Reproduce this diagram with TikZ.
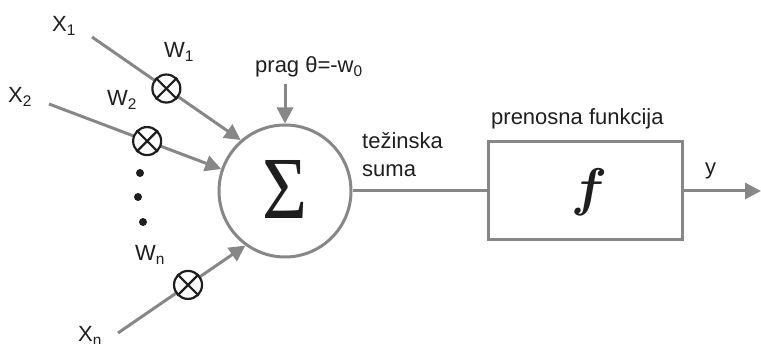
\documentclass[tikz,border=0pt]{standalone}
\usepackage{fontspec}
\usepackage{bm}
\setmainfont{Liberation Sans}
\newfontfamily\serifface{Liberation Serif}
\usetikzlibrary{arrows.meta,calc}
\definecolor{lgray}{RGB}{135,135,135}
\definecolor{ink}{RGB}{30,30,30}
\newcommand\ffun{\ensuremath{\bm{f}}}
\tikzset{
  conn/.style={draw=lgray, line width=3pt},
  arr/.style={conn, -{Triangle[length=16pt,width=16pt]}},
  lbl/.style={font=\fontsize{22}{24}\selectfont, text=ink, inner sep=0pt, anchor=base west},
  mult/.style={circle, draw=ink, line width=2.2pt, fill=white, minimum size=28pt, inner sep=0pt},
  dotn/.style={circle, fill=ink, minimum size=8pt, inner sep=0pt},
}
\begin{document}
\begin{tikzpicture}[x=1pt,y=-1pt]
\useasboundingbox (0,0) rectangle (761,344);
% summation node
\node[circle, draw=lgray, line width=3pt, minimum size=132pt, inner sep=0pt] (sum) at (285,191) {};
\node[text=ink, inner sep=0pt] (sig) at (285,189) {\resizebox{45pt}{58pt}{\serifface\symbol{"03A3}}};
% transfer function box
\node[draw=lgray, line width=3pt, minimum width=194pt, minimum height=98pt, inner sep=0pt] (box) at (585,191) {};
\node[text=ink, inner sep=0pt] (fsym) at (589,192) {\scalebox{5.3}{\ffun}};
% coordinates
\coordinate (x1s) at (92,37);
\coordinate (x2s) at (49,104);
\coordinate (xns) at (118,333);
\coordinate (pragS) at (285,84);
\coordinate (out) at (761,191);
% input connectors
\draw[arr] (x1s) -- (sum.131);
\draw[arr] (x2s) -- (sum.161);
\draw[arr] (xns) -- (sum.234);
\draw[arr] (pragS) -- (sum.north);
\draw[conn] (sum.east) -- (box.west);
\draw[arr] (box.east) -- (out);
% multipliers
\foreach \n/\s/\e/\t in {m1/x1s/sum.131/0.5, m2/x2s/sum.161/0.57, mn/xns/sum.234/0.55}{
  \node[mult] (\n) at ($(\s)!\t!(\e)$) {};
  \draw[ink, line width=2.2pt] (\n.45) -- (\n.225) (\n.135) -- (\n.315);
}
% dots
\node[dotn] (d1) at (140,173) {};
\node[dotn] (d2) at (138,197) {};
\node[dotn] (d3) at (143,222) {};
% labels
\node[lbl] (lx1) at (52,32) {X\textsubscript{1}};
\node[lbl] (lw1) at (164,58) {W\textsubscript{1}};
\node[lbl] (lx2) at (8,103) {X\textsubscript{2}};
\node[lbl] (lw2) at (107,106) {W\textsubscript{2}};
\node[lbl] (lwn) at (135,261) {W\textsubscript{n}};
\node[lbl] (lxn) at (78,342) {X\textsubscript{n}};
\node[lbl] (lprag) at (255,73) {prag θ=-w\textsubscript{0}};
\node[lbl] (ltez) at (362,149) {težinska};
\node[lbl] (lsuma) at (362,177) {suma};
\node[lbl] (lpren) at (491,125) {prenosna funkcija};
\node[lbl] (ly) at (705,175) {y};
\end{tikzpicture}
\end{document}
